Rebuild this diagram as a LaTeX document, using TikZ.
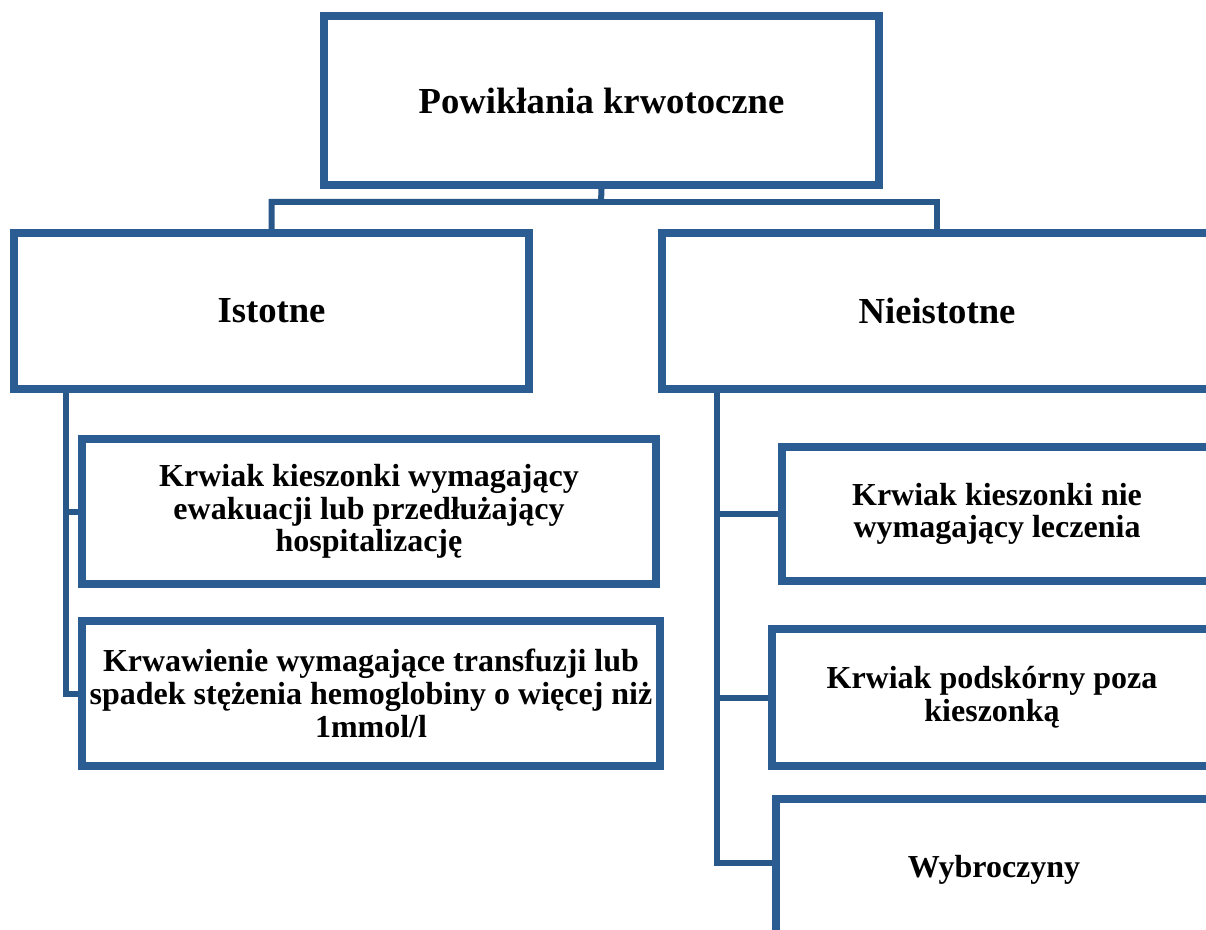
\documentclass[tikz,border=0pt]{standalone}
\usepackage{fontspec}
\setmainfont{Liberation Serif}
\usetikzlibrary{shadows,backgrounds}
\definecolor{boxblue}{HTML}{2C5D92}
\definecolor{lineblue}{HTML}{285789}
\tikzset{
  box/.style={draw=boxblue, line width=6pt, fill=white, rectangle, align=center,
    inner sep=0pt, font=\bfseries\fontsize{24}{24.5}\selectfont,
    drop shadow={shadow xshift=3pt, shadow yshift=-3pt, opacity=0.3, fill=black}},
  bigbox/.style={box, font=\bfseries\fontsize{27.5}{30}\selectfont},
  conn/.style={draw=lineblue, line width=4.5pt, line cap=rect}
}
\begin{document}
\begin{tikzpicture}[x=0.75pt, y=-0.75pt]
\useasboundingbox (0,0) rectangle (1206,930);
\clip (0,0) rectangle (1206,930);

\node[bigbox, minimum width=416.25pt, minimum height=126.75pt] (top) at (601.5,100.5) {Powikłania krwotoczne};
\node[bigbox, minimum width=386.25pt, minimum height=117pt] (ist) at (271.5,311) {Istotne};
\node[bigbox, minimum width=412.5pt, minimum height=117pt] (nie) at (937,311) {Nieistotne};

\node[box, minimum width=430.5pt, minimum height=108.75pt] (l1) at (369,511.5)
  {Krwiak kieszonki wymagający\\ewakuacji lub przedłużający\\hospitalizację};
\node[box, minimum width=433.5pt, minimum height=108.75pt] (l2) at (371,693.5)
  {Krwawienie wymagające transfuzji lub\\spadek stężenia hemoglobiny o więcej niż\\1mmol/l};

\node[box, minimum width=322.5pt, minimum height=100.5pt] (r1) at (997,514)
  {Krwiak kieszonki nie\\wymagający leczenia};
\node[box, minimum width=330pt, minimum height=102.75pt] (r2) at (992,697.5)
  {Krwiak podskórny poza\\kieszonką};
\node[box, minimum width=327pt, minimum height=106.5pt] (r3) at (994,870)
  {\raisebox{4pt}{Wybroczyny}};

\coordinate (bus) at (601,202);
\coordinate (lv) at (66,393);
\coordinate (rv) at (717,393);
\coordinate (r3b) at (717,863);

\begin{pgfonlayer}{background}
\fill[white] (0,0) rectangle (1206,930);
\draw[conn] (top.south) -- (bus) -| (ist.north);
\draw[conn] (bus) -| (nie.north);
\draw[conn] (lv) |- (l1.west);
\draw[conn] (lv) |- (l2.west);
\draw[conn] (rv) |- (r1.west);
\draw[conn] (rv) |- (r2.west);
\draw[conn] (rv) -- (r3b) -- (r3b -| r3.west);
\end{pgfonlayer}
\end{tikzpicture}
\end{document}
